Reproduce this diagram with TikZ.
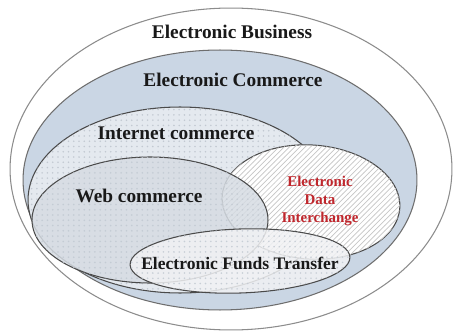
\documentclass[tikz,border=0pt]{standalone}
\usepackage{fontspec}
\setmainfont{Liberation Serif}
\usetikzlibrary{shapes.geometric,patterns}
\definecolor{rimgray}{HTML}{4A4A4A}
\definecolor{outergray}{HTML}{8C8C8C}
\definecolor{ecblue}{HTML}{CAD6E4}
\definecolor{icfill}{HTML}{E4E9EF}
\definecolor{wcfill}{HTML}{D6DCE3}
\definecolor{eftfill}{HTML}{F1F2F4}
\definecolor{dotgray}{HTML}{C2C9D2}
\definecolor{edired}{HTML}{C0272D}
\begin{document}
\begin{tikzpicture}[
    x=0.02cm, y=-0.02cm,
    area/.style={ellipse, draw=rimgray, line width=0.6pt, inner sep=0},
    dotted area/.style={area, postaction={pattern=dots, pattern color=dotgray}},
    title/.style={font=\fontsize{11}{13}\selectfont\bfseries, text=black!90},
    small title/.style={font=\fontsize{10}{12}\selectfont\bfseries, text=black!90},
    red title/.style={font=\fontsize{8.5}{10.2}\selectfont\bfseries, text=edired, align=center}
  ]
  \useasboundingbox (0,0) rectangle (453,331);
  % areas, outermost first
  \node[area, draw=outergray, fill=white, minimum width=8.84cm, minimum height=6.44cm] (bizarea) at (231,169) {};
  \node[area, draw=rimgray!80, fill=ecblue, minimum width=7.88cm, minimum height=5.2cm] (comarea) at (220,180) {};
  \node[dotted area, fill=icfill, minimum width=6.08cm, minimum height=3.72cm] (netarea) at (180,200) {};
  \node[area, fill=white, postaction={pattern=north east lines, pattern color=gray!45},
    minimum width=3.56cm, minimum height=2.28cm, rotate=-4] (ediarea) at (311,202) {};
  \node[dotted area, fill=wcfill, fill opacity=0.85, minimum width=4.72cm, minimum height=2.52cm] (webarea) at (150,220) {};
  \node[dotted area, fill=eftfill, fill opacity=0.85, minimum width=4.4cm, minimum height=1.28cm, rotate=2] (eftarea) at (240,261) {};
  % labels
  \node[title] (biz) at (232,32) {Electronic Business};
  \node[title] (com) at (233,80) {Electronic Commerce};
  \node[title] (net) at (176,133) {Internet commerce};
  \node[title] (web) at (139,196) {Web commerce};
  \node[red title] (edi) at (320,201) {Electronic\\Data\\Interchange};
  \node[small title] (eft) at (240,263) {Electronic Funds Transfer};
\end{tikzpicture}
\end{document}
